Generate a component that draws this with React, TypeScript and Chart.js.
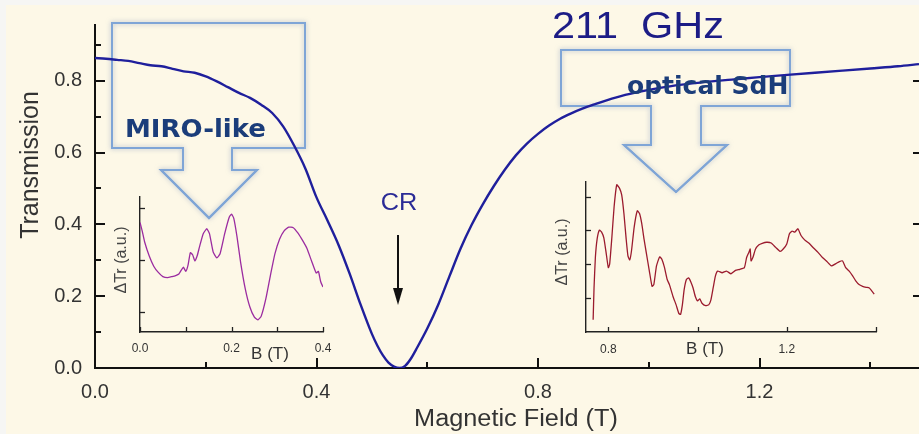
import React, { useEffect, useRef } from "react";
import { Chart, registerables } from "chart.js";
Chart.register(...registerables);

const W = 919;
const H = 434;

// ---- main curve: transmission vs magnetic field ----
const fieldT = [0.0, 0.02, 0.04, 0.06, 0.08, 0.1, 0.12, 0.14, 0.16, 0.18, 0.2, 0.22, 0.24, 0.26, 0.28, 0.3, 0.32, 0.34, 0.36, 0.38, 0.4, 0.42, 0.44, 0.46, 0.48, 0.5, 0.51, 0.52, 0.53, 0.54, 0.55, 0.56, 0.57, 0.58, 0.6, 0.62, 0.64, 0.66, 0.68, 0.7, 0.72, 0.74, 0.76, 0.78, 0.8, 0.82, 0.84, 0.86, 0.88, 0.9, 0.94, 0.98, 1.02, 1.06, 1.1, 1.15, 1.2, 1.25, 1.3, 1.35, 1.4, 1.45, 1.488];
const transmission = [0.863, 0.861, 0.858, 0.855, 0.849, 0.843, 0.84, 0.833, 0.826, 0.822, 0.812, 0.798, 0.782, 0.766, 0.752, 0.733, 0.71, 0.672, 0.618, 0.555, 0.475, 0.41, 0.342, 0.262, 0.175, 0.095, 0.062, 0.035, 0.015, 0.004, 0.0, 0.006, 0.025, 0.052, 0.11, 0.177, 0.255, 0.332, 0.398, 0.455, 0.506, 0.552, 0.592, 0.625, 0.652, 0.675, 0.694, 0.709, 0.722, 0.733, 0.753, 0.768, 0.78, 0.789, 0.796, 0.803, 0.81, 0.816, 0.822, 0.828, 0.834, 0.84, 0.846];

// ---- MIRO-like inset ----
const miroField = [0.0, 0.005, 0.01, 0.02, 0.03, 0.04, 0.05, 0.06, 0.07, 0.078, 0.085, 0.09, 0.095, 0.1, 0.105, 0.11, 0.115, 0.12, 0.125, 0.13, 0.138, 0.146, 0.152, 0.16, 0.168, 0.175, 0.185, 0.195, 0.2, 0.205, 0.212, 0.22, 0.23, 0.24, 0.25, 0.258, 0.265, 0.275, 0.285, 0.295, 0.305, 0.315, 0.325, 0.335, 0.345, 0.355, 0.365, 0.375, 0.385, 0.39, 0.395, 0.4];
const miroSignal = [2.72, 2.55, 2.35, 2.08, 1.88, 1.76, 1.68, 1.66, 1.68, 1.7, 1.73, 1.8, 1.86, 1.78, 1.9, 2.14, 2.1, 1.98, 2.08, 2.25, 2.5, 2.6, 2.5, 2.15, 2.04, 2.12, 2.5, 2.82, 2.88, 2.8, 2.45, 1.95, 1.45, 1.1, 0.9, 0.85, 0.92, 1.25, 1.7, 2.12, 2.4, 2.56, 2.63, 2.62, 2.52, 2.38, 2.22, 1.98, 1.75, 1.78, 1.58, 1.48];

// ---- optical SdH inset ----
const sdhField = [0.766, 0.768, 0.771, 0.775, 0.78, 0.785, 0.79, 0.795, 0.8, 0.803, 0.808, 0.813, 0.819, 0.825, 0.83, 0.835, 0.84, 0.844, 0.848, 0.852, 0.858, 0.865, 0.87, 0.875, 0.88, 0.885, 0.892, 0.898, 0.902, 0.908, 0.915, 0.92, 0.926, 0.932, 0.937, 0.945, 0.952, 0.958, 0.962, 0.966, 0.97, 0.975, 0.98, 0.985, 0.99, 0.995, 1.0, 1.005, 1.01, 1.018, 1.025, 1.03, 1.035, 1.04, 1.045, 1.055, 1.065, 1.075, 1.085, 1.095, 1.105, 1.11, 1.115, 1.118, 1.12, 1.124, 1.13, 1.137, 1.145, 1.155, 1.165, 1.175, 1.185, 1.192, 1.2, 1.206, 1.212, 1.218, 1.225, 1.232, 1.24, 1.25, 1.26, 1.27, 1.28, 1.29, 1.3, 1.31, 1.318, 1.325, 1.332, 1.34, 1.348, 1.355, 1.362, 1.37, 1.378, 1.385, 1.39, 1.396];
const sdhSignal = [0.36, 1.3, 2.2, 2.75, 3.01, 2.95, 2.78, 2.35, 1.9, 2.0, 2.8, 3.7, 4.35, 4.25, 4.05, 3.5, 2.75, 2.25, 2.13, 2.4, 3.1, 3.58, 3.5, 3.2, 2.75, 2.35, 1.8, 1.35, 1.4, 1.95, 2.22, 2.15, 1.9, 1.55, 1.4, 1.05, 0.8, 0.55, 0.52, 0.8, 1.25, 1.55, 1.6, 1.48, 1.3, 1.05, 0.92, 0.98, 0.85, 0.78, 0.8, 0.95, 1.3, 1.65, 1.8, 1.75, 1.8, 1.72, 1.82, 1.85, 1.9, 2.2, 2.35, 2.45, 2.1, 2.2, 2.45, 2.57, 2.62, 2.65, 2.63, 2.5, 2.38, 2.45, 2.6, 2.9, 2.98, 2.95, 3.05, 2.85, 2.72, 2.62, 2.48, 2.35, 2.2, 2.08, 1.95, 2.02, 2.08, 2.1, 1.9, 1.8, 1.65, 1.5, 1.4, 1.35, 1.32, 1.3, 1.22, 1.12];

// ---- ticks and labels ----
const mainXTicks = [0, 0.2, 0.4, 0.6, 0.8, 1.0, 1.2, 1.4];
const mainXLabels = ["0.0", "0.4", "0.8", "1.2"];
const mainYTicks = [0, 0.1, 0.2, 0.3, 0.4, 0.5, 0.6, 0.7, 0.8, 0.9];
const mainYLabels = ["0.0", "0.2", "0.4", "0.6", "0.8"];
const miroXTicks = [0, 0.1, 0.2, 0.3, 0.4];
const miroXLabels = ["0.0", "0.2", "0.4"];
const miroYTicks = [1, 2, 3];
const sdhXTicks = [0.8, 1.0, 1.2, 1.4];
const sdhXLabels = ["0.8", "1.2"];
const sdhYTicks = [1, 2, 3, 4];

const SANS = "'Liberation Sans', Arial, sans-serif";
const BOLD = "'DejaVu Sans', Verdana, sans-serif";

function pts(xs: number[], ys: number[]) {
  return xs.map((x, i) => ({ x, y: ys[i] }));
}

function labelCb(labels: string[]) {
  return (v: any) => {
    const s = Number(v).toFixed(1);
    return labels.includes(s) ? s : "";
  };
}

function stretchText(ctx: CanvasRenderingContext2D, text: string, x: number, y: number, sx: number) {
  ctx.save();
  ctx.translate(x, y);
  ctx.scale(sx, 1);
  ctx.fillText(text, 0, 0);
  ctx.restore();
}

function blockArrow(ctx: CanvasRenderingContext2D, p: number[][]) {
  ctx.save();
  ctx.beginPath();
  p.forEach(([x, y], i) => (i ? ctx.lineTo(x, y) : ctx.moveTo(x, y)));
  ctx.closePath();
  ctx.lineJoin = "miter";
  ctx.shadowColor = "rgba(120,145,185,0.6)";
  ctx.shadowBlur = 5;
  ctx.strokeStyle = "#7fa5d6";
  ctx.lineWidth = 2;
  ctx.stroke();
  ctx.shadowBlur = 0;
  ctx.stroke();
  ctx.restore();
}

const mainPlugin = {
  id: "mainDeco",
  beforeDraw(chart: any) {
    const ctx = chart.ctx;
    ctx.save();
    ctx.fillStyle = "#f6f6f4";
    ctx.fillRect(0, 0, W, H);
    ctx.fillStyle = "#fdf8e7";
    ctx.fillRect(6, 5, W - 6, H - 5);
    ctx.restore();
  },
  beforeDatasetsDraw(chart: any) {
    const ctx = chart.ctx;
    blockArrow(ctx, [[112, 23], [305, 23], [305, 148], [232, 148], [232, 170], [257, 170], [209, 218], [161, 170], [183, 170], [183, 148], [112, 148]]);
    blockArrow(ctx, [[561, 50], [790, 50], [790, 106], [701, 106], [701, 145], [727, 145], [676, 192], [624, 145], [651, 145], [651, 106], [561, 106]]);
  },
  afterDraw(chart: any) {
    const ctx = chart.ctx;
    const xs = chart.scales.x;
    const ys = chart.scales.y;
    const { left, right, bottom } = chart.chartArea;
    ctx.save();
    ctx.strokeStyle = "#111";
    ctx.lineWidth = 2;
    mainYTicks.forEach((v, i) => {
      if (v === 0) return;
      const py = Math.round(ys.getPixelForValue(v));
      const len = i % 2 === 0 ? 10 : 6;
      ctx.beginPath();
      ctx.moveTo(left, py);
      ctx.lineTo(left + len, py);
      ctx.stroke();
      if (i % 2 === 0) {
        ctx.beginPath();
        ctx.moveTo(right, py);
        ctx.lineTo(right - 6, py);
        ctx.stroke();
      }
    });
    mainXTicks.forEach((v, i) => {
      if (v === 0) return;
      const px = Math.round(xs.getPixelForValue(v));
      const len = i % 2 === 0 ? 10 : 6;
      ctx.beginPath();
      ctx.moveTo(px, bottom);
      ctx.lineTo(px, bottom - len);
      ctx.stroke();
    });
    // axis titles
    ctx.fillStyle = "#333";
    ctx.font = `25px ${SANS}`;
    ctx.textAlign = "center";
    ctx.textBaseline = "middle";
    ctx.save();
    ctx.translate(31, 165);
    ctx.rotate(-Math.PI / 2);
    ctx.fillText("Transmission", 0, 0);
    ctx.restore();
    ctx.font = `23px ${SANS}`;
    stretchText(ctx, "Magnetic Field (T)", 516, 420, 1.1);
    // frequency
    ctx.textBaseline = "alphabetic";
    ctx.textAlign = "left";
    ctx.fillStyle = "#1c1c86";
    ctx.font = `37px ${SANS}`;
    stretchText(ctx, "211  GHz", 552, 38, 1.12);
    // CR
    ctx.fillStyle = "#2b2b96";
    ctx.font = `23px ${SANS}`;
    ctx.textAlign = "center";
    stretchText(ctx, "CR", 399, 210, 1.1);
    ctx.strokeStyle = "#111";
    ctx.lineWidth = 2;
    ctx.beginPath();
    ctx.moveTo(398, 235);
    ctx.lineTo(398, 292);
    ctx.stroke();
    ctx.fillStyle = "#111";
    ctx.beginPath();
    ctx.moveTo(393, 288);
    ctx.lineTo(403, 288);
    ctx.lineTo(398, 305);
    ctx.closePath();
    ctx.fill();
    // callout labels
    ctx.fillStyle = "#1b3d7a";
    ctx.font = `bold 25px ${BOLD}`;
    ctx.textAlign = "left";
    stretchText(ctx, "MIRO-like", 125, 137, 1.04);
    ctx.fillText("optical SdH", 627, 94);
    ctx.restore();
  },
};

function mainConfig(): any {
  return {
    type: "line",
    data: {
      datasets: [
        {
          data: pts(fieldT, transmission),
          borderColor: "#1f1f9c",
          borderWidth: 2.4,
          pointRadius: 0,
          cubicInterpolationMode: "monotone",
        },
      ],
    },
    options: {
      responsive: false,
      animation: false,
      layout: { padding: { left: 0, top: 5, right: 0, bottom: 0 } },
      plugins: { legend: { display: false }, tooltip: { enabled: false } },
      scales: {
        x: {
          type: "linear",
          min: 0,
          max: 1.488,
          grid: { display: false, drawTicks: false },
          border: { display: true, color: "#111", width: 2 },
          afterBuildTicks: (s: any) => {
            s.ticks = mainXTicks.map((value) => ({ value }));
          },
          afterFit: (s: any) => {
            s.height = 66;
          },
          ticks: {
            autoSkip: false,
            maxRotation: 0,
            padding: 12,
            color: "#333",
            font: { family: SANS, size: 20 },
            callback: labelCb(mainXLabels),
          },
        },
        y: {
          type: "linear",
          min: 0,
          max: 0.955,
          grid: { display: false, drawTicks: false },
          border: { display: true, color: "#111", width: 2 },
          afterBuildTicks: (s: any) => {
            s.ticks = mainYTicks.map((value) => ({ value }));
          },
          afterFit: (s: any) => {
            s.width = 95;
          },
          ticks: {
            autoSkip: false,
            padding: 13,
            color: "#333",
            font: { family: SANS, size: 20 },
            callback: labelCb(mainYLabels),
          },
        },
      },
    },
    plugins: [mainPlugin],
  };
}

interface InsetSpec {
  xs: number[];
  ys: number[];
  color: string;
  xmin: number;
  xmax: number;
  ymin: number;
  ymax: number;
  area: [number, number, number, number]; // left, top, right, bottom
  xTicks: number[];
  xLabels: string[];
  yTicks: number[];
  labelPad: number;
  bPos: [number, number];
  yTitlePos: [number, number];
}

function insetConfig(sp: InsetSpec): any {
  const [l, t, r, b] = sp.area;
  const xAxisH = 30;
  const plugin = {
    id: "insetDeco",
    afterDraw(chart: any) {
      const ctx = chart.ctx;
      const xs = chart.scales.x;
      const ys = chart.scales.y;
      const { left, bottom } = chart.chartArea;
      ctx.save();
      ctx.strokeStyle = "#222";
      ctx.lineWidth = 1.3;
      sp.xTicks.forEach((v) => {
        const px = Math.round(xs.getPixelForValue(v)) + 0.5;
        ctx.beginPath();
        ctx.moveTo(px, bottom);
        ctx.lineTo(px, bottom - 5);
        ctx.stroke();
      });
      sp.yTicks.forEach((v) => {
        const py = Math.round(ys.getPixelForValue(v)) + 0.5;
        ctx.beginPath();
        ctx.moveTo(left, py);
        ctx.lineTo(left + 5, py);
        ctx.stroke();
      });
      ctx.fillStyle = "#333";
      ctx.font = `17px ${SANS}`;
      ctx.textAlign = "center";
      ctx.textBaseline = "middle";
      ctx.fillText("B (T)", sp.bPos[0], sp.bPos[1]);
      ctx.font = `16px ${SANS}`;
      ctx.fillStyle = "#444";
      ctx.translate(sp.yTitlePos[0], sp.yTitlePos[1]);
      ctx.rotate(-Math.PI / 2);
      ctx.fillText("\u0394Tr (a.u.)", 0, 0);
      ctx.restore();
    },
  };
  return {
    type: "line",
    data: {
      datasets: [
        {
          data: pts(sp.xs, sp.ys),
          borderColor: sp.color,
          borderWidth: 1.3,
          pointRadius: 0,
          tension: 0.15,
        },
      ],
    },
    options: {
      responsive: false,
      animation: false,
      layout: { padding: { left: l, top: t, right: W - r, bottom: H - b - xAxisH } },
      plugins: { legend: { display: false }, tooltip: { enabled: false } },
      scales: {
        x: {
          type: "linear",
          min: sp.xmin,
          max: sp.xmax,
          grid: { display: false, drawTicks: false },
          border: { display: true, color: "#222", width: 1.4 },
          afterBuildTicks: (s: any) => {
            s.ticks = sp.xTicks.map((value) => ({ value }));
          },
          afterFit: (s: any) => {
            s.height = xAxisH;
          },
          ticks: {
            autoSkip: false,
            maxRotation: 0,
            padding: sp.labelPad,
            color: "#333",
            font: { family: SANS, size: 12 },
            callback: labelCb(sp.xLabels),
          },
        },
        y: {
          type: "linear",
          min: sp.ymin,
          max: sp.ymax,
          grid: { display: false, drawTicks: false },
          border: { display: true, color: "#222", width: 1.4 },
          afterBuildTicks: (s: any) => {
            s.ticks = sp.yTicks.map((value) => ({ value }));
          },
          afterFit: (s: any) => {
            s.width = 0;
          },
          ticks: { display: false },
        },
      },
    },
    plugins: [plugin],
  };
}

export default function App() {
  const mainRef = useRef<HTMLCanvasElement>(null);
  const miroRef = useRef<HTMLCanvasElement>(null);
  const sdhRef = useRef<HTMLCanvasElement>(null);

  useEffect(() => {
    const charts: Chart[] = [];
    if (mainRef.current) charts.push(new Chart(mainRef.current, mainConfig()));
    if (miroRef.current)
      charts.push(
        new Chart(
          miroRef.current,
          insetConfig({
            xs: miroField,
            ys: miroSignal,
            color: "#9b2ca0",
            xmin: 0,
            xmax: 0.4,
            ymin: 0.615,
            ymax: 3.21,
            area: [140, 197, 323, 332],
            xTicks: miroXTicks,
            xLabels: miroXLabels,
            yTicks: miroYTicks,
            labelPad: 9,
            bPos: [270, 354],
            yTitlePos: [122, 260],
          })
        )
      );
    if (sdhRef.current)
      charts.push(
        new Chart(
          sdhRef.current,
          insetConfig({
            xs: sdhField,
            ys: sdhSignal,
            color: "#9b1b2e",
            xmin: 0.75,
            xmax: 1.4,
            ymin: 0.0,
            ymax: 4.43,
            area: [586, 182, 876, 332],
            xTicks: sdhXTicks,
            xLabels: sdhXLabels,
            yTicks: sdhYTicks,
            labelPad: 10,
            bPos: [705, 349],
            yTitlePos: [563, 252],
          })
        )
      );
    return () => charts.forEach((c) => c.destroy());
  }, []);

  const cs: React.CSSProperties = { position: "absolute", left: 0, top: 0, width: W, height: H };
  return (
    <div style={{ position: "absolute", left: 0, top: 0, width: W, height: H, overflow: "hidden" }}>
      <canvas ref={mainRef} width={W} height={H} style={cs} />
      <canvas ref={miroRef} width={W} height={H} style={cs} />
      <canvas ref={sdhRef} width={W} height={H} style={cs} />
    </div>
  );
}
